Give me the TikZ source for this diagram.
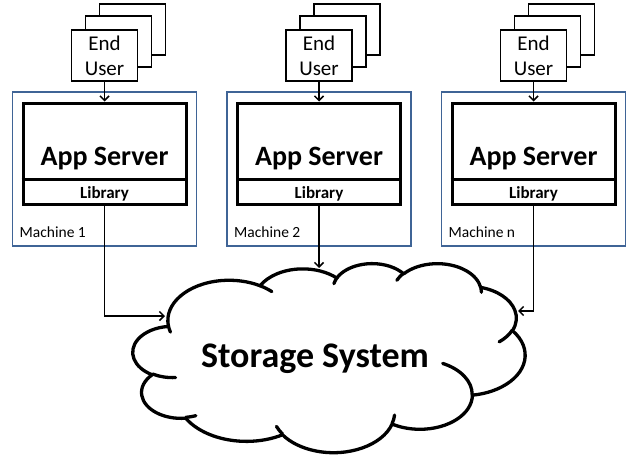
\documentclass[tikz,border=0pt]{standalone}
\usepackage{fontspec}
\setmainfont{Carlito}
\usetikzlibrary{arrows.meta}
\definecolor{machineblue}{HTML}{3F6496}

% cloud outline: elliptic arc continuing from the current point,
% radii in cloud units, start/sweep given as visual angles
\newcommand\cloudsx{3.92}
\newcommand\cloudsy{1.89}
\newcommand\oarc[4]{arc[x radius={#1*\cloudsx*1pt}, y radius={#2*\cloudsy*1pt},
  start angle={atan2(#1*sin(#3),#2*cos(#3))},
  delta angle={mod(atan2(#1*sin(#3+#4),#2*cos(#3+#4))-atan2(#1*sin(#3),#2*cos(#3))+720,360)}]}

\tikzset{
  machine/.style={draw=machineblue, line width=1.9pt, minimum width=184pt, minimum height=154pt, inner sep=0pt},
  appbox/.style={draw, line width=3pt, minimum width=163pt, minimum height=101pt, inner sep=0pt},
  userbox/.style={draw, line width=1.8pt, fill=white, minimum width=66pt, minimum height=51pt,
    inner sep=0pt, align=center, font=\fontsize{21}{25}\selectfont},
  apptext/.style={anchor=base, inner sep=0pt, font=\fontsize{28}{30}\selectfont\bfseries},
  libtext/.style={anchor=base, inner sep=0pt, font=\fontsize{17}{19}\selectfont\bfseries},
  machtext/.style={anchor=base west, inner sep=0pt, font=\fontsize{15.5}{17}\selectfont},
  conn/.style={line width=1.5pt, -{Straight Barb[length=4.5pt, width=9pt]}},
  cloudline/.style={line width=3.3pt, line join=round, line cap=round},
}

\begin{document}
\begin{tikzpicture}[x=1pt, y=1pt, yscale=-1]
\useasboundingbox (0,0) rectangle (627,455);

\foreach \i/\c/\lab in {1/104.5/1, 2/319/2, 3/533.5/n}{
  % machine frame and application server
  \node[machine] (m\i) at (\c,169) {};
  \node[appbox] (a\i) at (\c,153.5) {};
  \draw[line width=3pt] (a\i.west |- 0,179) -- (a\i.east |- 0,179);
  \node[apptext] (t\i) at (\c,165) {App Server};
  \node[libtext] (l\i) at (\c,198) {Library};
  \node[machtext] (n\i) at (\c-85,237) {Machine \lab};
  % stacked end users
  \node[userbox] (ub\i) at (\c+28,29.5) {};
  \node[userbox] (um\i) at (\c+14,41.5) {};
  \node[userbox] (u\i) at (\c,55.5) {End\\User};
  \draw[conn] (u\i.south) -- (a\i.north);
}

% storage cloud
\begin{scope}[shift={(133,263)}, x=\cloudsx pt, y=\cloudsy pt]
  \draw[cloudline, fill=white] (9.028,33.264)
    \oarc{15.632}{21.273}{-190.487}{123.781}
    \oarc{12.345}{16.822}{-144.102}{89.945}
    \oarc{10.104}{13.762}{-145.808}{99.723}
    \oarc{11.243}{15.266}{-130.986}{117.242}
    \oarc{12.345}{16.836}{-78.709}{109.027}
    \oarc{15.683}{21.343}{-46.267}{130.269}
    \oarc{13.391}{18.211}{0.625}{114.033}
    \oarc{15.630}{21.331}{22.452}{115.173}
    \oarc{17.870}{24.405}{66.243}{75.711}
    \oarc{10.093}{13.699}{-274.942}{146.736}
    \oarc{10.058}{13.762}{-246.829}{152.519}
    -- cycle;
  \draw[cloudline]
    (10.863,60.595) \oarc{10.058}{13.762}{86.742}{26.430}
    (16.037,80.785) \oarc{10.093}{13.699}{73.610}{11.447}
    (38.144,90.486) \oarc{15.630}{21.331}{137.624}{14.081}
    (66.729,80.442) \oarc{15.630}{21.331}{6.453}{15.998}
    (79.002,53.134) \oarc{13.391}{18.211}{-70.292}{70.917}
    (96.755,35.542) \oarc{12.345}{16.836}{30.318}{27.752}
    (88.713,12.560) \oarc{11.243}{15.266}{-13.744}{14.859}
    (67.310,9.148)  \oarc{11.243}{15.266}{-149.181}{18.195}
    (51.252,10.926) \oarc{10.104}{13.762}{-163.494}{17.686}
    (32.407,12.019) \oarc{15.632}{21.273}{-66.707}{12.319}
    (9.553,36.549)  \oarc{15.632}{21.273}{157.654}{11.858};
\end{scope}
\node[anchor=base, inner sep=0pt, font=\fontsize{36}{38}\selectfont\bfseries] (st) at (315,367) {Storage System};

% library to storage connectors
\coordinate (e1) at (165,316);
\coordinate (e2) at (319,268);
\coordinate (e3) at (518,311);
\draw[conn] (a1.south) |- (e1);
\draw[conn] (a2.south) -- (e2);
\draw[conn] (a3.south) |- (e3);
\end{tikzpicture}
\end{document}
